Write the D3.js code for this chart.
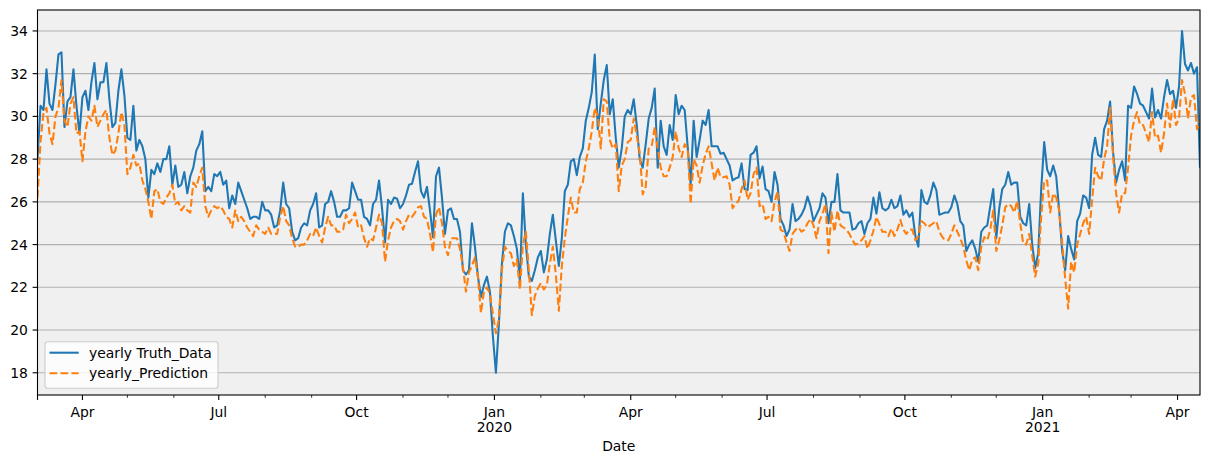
<!DOCTYPE html>
<html><head><meta charset="utf-8">
<script src="https://cdn.jsdelivr.net/npm/d3@7"></script>
<style>
body{margin:0;background:#fff}
svg{display:block}
text{font-family:"DejaVu Sans",sans-serif;font-size:13.9px;fill:#000}
</style>
</head><body>
<svg id="chart" width="1209" height="464"></svg>
<script>
// ---- data ----
const startDate = "2019-03-02";   // first observation
const stepDays = 2;               // spacing between the read-off values
const totalDays = 776;            // span of the x axis
const seriesNames = ["yearly Truth_Data", "yearly_Prediction"];
const xAxisLabel = "Date";
const yTickValues = [18, 20, 22, 24, 26, 28, 30, 32, 34];

const truthValues = [
28.0,30.5,30.3,32.2,30.6,30.3,31.5,32.9,33.0,29.5,30.7,30.9,32.2,30.5,29.2,30.9,31.2,30.3,31.6,32.5,30.8,31.6,31.6,32.5,30.8,29.5,29.7,31.2,32.2,31.0,29.0,28.9,30.5,28.4,28.9,28.6,28.0,26.2,27.5,27.3,27.8,
27.4,28.0,28.0,28.6,26.8,27.7,26.7,26.8,27.4,26.4,27.2,27.6,28.4,28.7,29.3,26.5,26.7,26.5,27.3,27.2,27.4,26.8,27.0,25.7,26.3,25.9,26.9,26.5,26.1,25.7,25.2,25.3,25.3,25.2,26.0,25.6,25.6,25.4,24.8,
24.9,25.6,26.9,25.9,25.7,24.6,24.2,24.3,24.8,25.0,24.9,25.6,25.9,26.4,24.8,24.9,25.9,26.0,26.5,26.0,25.3,25.3,25.6,25.6,25.7,26.9,26.5,26.1,26.1,25.3,25.2,24.9,25.9,26.1,27.0,25.7,24.1,26.1,25.9,
26.2,26.15,25.7,25.9,26.3,26.8,26.85,27.4,27.9,26.5,26.2,26.7,25.6,24.35,27.2,27.6,26.2,24.5,25.6,25.7,25.2,25.2,24.6,22.8,22.6,22.8,25.0,23.9,22.5,21.55,22.1,22.5,21.8,19.7,18.0,20.3,23.1,24.6,25.0,
24.9,24.4,23.8,22.3,26.4,24.0,22.5,22.3,22.8,23.4,23.7,22.7,23.3,24.5,25.4,24.2,23.0,24.3,26.5,26.8,27.9,28.0,27.25,28.1,28.5,29.8,30.4,31.15,32.9,29.4,30.6,31.7,32.4,30.1,30.8,29.0,27.6,28.5,30.0,
30.3,30.1,30.8,29.6,28.0,27.6,28.7,29.9,30.4,31.3,27.6,29.8,28.6,28.2,29.6,28.9,31.0,30.1,30.5,30.3,28.6,26.8,29.8,28.1,28.9,29.8,29.6,30.3,28.6,28.6,28.6,28.25,28.3,28.0,27.7,27.0,27.1,27.15,27.8,
26.6,26.55,28.2,28.3,28.6,27.1,27.65,26.6,26.5,26.0,27.4,26.8,25.2,24.9,24.4,24.7,25.9,25.1,25.2,25.4,25.7,26.25,25.8,25.1,25.4,25.7,26.4,26.2,25.0,26.0,26.0,27.3,25.6,25.5,25.5,25.5,24.7,24.75,25.0,
25.1,24.5,25.0,25.2,26.2,25.45,26.45,25.7,25.6,25.7,26.1,25.7,25.8,26.3,25.4,25.6,25.3,25.5,24.4,23.9,26.55,26.0,25.9,26.3,26.9,26.55,25.4,25.45,25.5,25.5,25.75,26.3,25.9,25.1,24.9,23.7,24.0,24.2,23.8,
23.2,24.6,24.8,24.9,25.8,26.6,24.3,25.7,26.6,26.8,27.4,26.8,26.9,26.9,25.3,25.0,24.9,25.9,24.0,22.9,23.6,26.6,28.8,27.5,27.2,27.7,27.2,25.6,23.7,22.8,24.4,23.8,23.3,25.1,25.45,26.3,26.2,25.7,
28.2,29.0,28.2,28.1,29.4,29.8,30.7,28.3,26.9,27.5,27.9,27.0,30.5,30.4,31.4,31.05,30.6,30.5,30.2,29.9,31.3,29.95,30.3,29.9,30.9,31.7,31.05,31.2,30.4,31.4,34.0,32.45,32.15,32.5,32.0,32.3,27.6
];

const predictionValues = [
26.2,28.8,30.2,30.4,29.2,28.7,30.0,30.4,31.7,29.8,29.5,30.6,30.9,29.2,29.3,27.9,29.3,30.0,29.8,30.5,29.5,29.8,30.1,30.3,29.0,28.2,28.4,29.2,30.2,29.6,27.3,27.6,28.2,27.7,27.8,27.0,26.6,26.0,25.2,26.5,26.6,
26.0,25.9,26.2,26.4,26.8,25.9,26.0,25.6,25.8,25.6,25.5,26.9,26.7,27.2,27.6,25.8,25.3,25.6,25.8,25.7,25.8,25.6,25.3,25.2,24.8,25.6,25.1,25.3,25.1,24.8,24.6,24.4,24.9,24.7,24.6,24.5,24.8,24.5,24.5,
24.5,25.3,25.8,25.1,24.9,24.3,23.9,23.9,24.0,24.0,24.2,24.5,24.4,24.8,24.4,24.1,24.8,25.3,24.9,24.9,24.6,24.6,24.7,25.4,25.0,25.2,25.5,24.8,24.9,24.3,23.9,24.3,24.2,24.8,25.4,25.0,23.2,24.2,24.8,
25.1,25.2,25.1,24.7,25.1,25.4,25.3,25.5,25.75,25.8,25.3,25.2,24.5,23.65,25.4,25.75,25.0,23.9,23.5,24.3,24.3,24.3,23.8,22.95,21.8,22.7,23.0,23.4,22.5,20.8,21.8,22.0,21.7,20.75,19.85,20.5,22.8,23.9,23.7,
23.6,23.0,23.3,21.9,24.0,24.6,22.8,20.7,21.6,21.95,22.2,21.9,22.1,23.1,23.9,22.6,20.9,23.0,24.3,25.3,26.2,25.5,25.5,26.6,26.9,27.9,28.5,29.3,30.4,30.0,28.5,30.8,30.7,28.9,28.5,28.7,26.5,27.7,28.0,
28.8,28.9,29.9,29.1,28.3,26.35,26.7,28.5,28.6,29.5,28.5,27.6,27.2,27.2,27.6,28.1,29.3,28.5,28.1,28.7,28.5,25.9,28.0,27.7,26.9,27.7,28.25,28.6,27.8,27.0,27.6,27.15,27.15,27.2,26.8,25.7,25.9,26.05,26.6,
27.0,26.1,26.4,27.3,27.6,25.8,25.9,25.2,25.3,25.1,26.0,26.5,24.7,24.6,24.1,23.7,24.5,24.7,24.8,24.6,24.7,25.0,25.2,24.9,24.3,25.1,25.45,25.9,23.6,25.5,24.6,25.6,24.9,24.8,24.7,24.5,24.2,24.0,24.05,
24.2,24.4,23.8,24.2,24.65,25.3,24.95,24.6,24.6,24.4,24.75,24.4,24.7,25.15,24.7,24.5,24.7,24.7,24.2,24.4,25.1,25.0,24.8,24.9,25.0,25.1,24.6,24.35,24.2,24.2,24.5,24.9,24.6,24.3,23.9,23.25,22.8,23.3,23.4,
22.8,23.9,24.35,24.2,24.7,25.6,23.7,24.2,24.9,25.75,25.9,25.8,25.5,26.05,25.0,24.05,24.0,24.5,23.5,22.5,23.1,25.3,27.0,27.0,25.5,26.4,26.2,25.6,24.1,22.4,21.0,23.2,22.7,24.0,24.5,25.0,25.3,24.5,
26.1,27.6,27.2,27.0,28.0,28.6,30.4,28.1,26.4,25.5,26.4,26.4,27.6,29.1,29.8,30.2,29.6,29.6,29.2,28.8,30.2,29.0,29.1,28.3,29.2,30.6,29.5,30.8,29.6,29.9,31.7,31.05,29.9,30.9,31.0,29.4,29.8
];

// ---- layout ----
const W = 1209, H = 464;
const plot = {left: 37.5, right: 1200, top: 10, bottom: 395};
const colors = ["#1f77b4", "#ff7f0e"];

const svg = d3.select("#chart");
const t0 = d3.isoParse(startDate + "T00:00:00Z");
const t1 = d3.utcDay.offset(t0, totalDays);
const dateAt = i => d3.utcDay.offset(t0, i * stepDays);

const truth = truthValues.map((v, i) => ({date: dateAt(i), v}));
const pred = predictionValues.map((v, i) => ({date: dateAt(i), v}));

const x = d3.scaleUtc().domain([t0, t1]).range([plot.left, plot.right]);
const y = d3.scaleLinear().domain([16.96, 34.98]).range([plot.bottom, plot.top]);

// background
svg.append("rect").attr("x", plot.left).attr("y", plot.top)
  .attr("width", plot.right - plot.left).attr("height", plot.bottom - plot.top)
  .attr("fill", "#f0f0f0");

// horizontal grid
svg.append("g").selectAll("line").data(yTickValues).join("line")
  .attr("x1", plot.left).attr("x2", plot.right)
  .attr("y1", d => y(d)).attr("y2", d => y(d))
  .attr("stroke", "#b0b0b0").attr("stroke-width", 1.1);

// clip
svg.append("clipPath").attr("id", "clip").append("rect")
  .attr("x", plot.left).attr("y", plot.top)
  .attr("width", plot.right - plot.left).attr("height", plot.bottom - plot.top);

const line = d3.line().x(d => x(d.date)).y(d => y(d.v));
const g = svg.append("g").attr("clip-path", "url(#clip)");
g.append("path").datum(truth).attr("d", line)
  .attr("fill", "none").attr("stroke", colors[0]).attr("stroke-width", 2.08)
  .attr("stroke-linejoin", "round");
g.append("path").datum(pred).attr("d", line)
  .attr("fill", "none").attr("stroke", colors[1]).attr("stroke-width", 2.08)
  .attr("stroke-linejoin", "round").attr("stroke-dasharray", "7.7,3.3");

// frame
svg.append("rect").attr("x", plot.left).attr("y", plot.top)
  .attr("width", plot.right - plot.left).attr("height", plot.bottom - plot.top)
  .attr("fill", "none").attr("stroke", "#000").attr("stroke-width", 1.1);

// y axis
const yAxis = svg.append("g");
yTickValues.forEach(v => {
  yAxis.append("line").attr("x1", plot.left - 4.9).attr("x2", plot.left)
    .attr("y1", y(v)).attr("y2", y(v)).attr("stroke", "#000").attr("stroke-width", 1.1);
  yAxis.append("text").attr("x", plot.left - 9.6).attr("y", y(v) + 5)
    .attr("text-anchor", "end").text(v);
});

// x axis: quarterly majors, monthly minors
const majors = d3.utcMonth.range(t0, t1).filter(d => d.getUTCMonth() % 3 === 0);
const minors = d3.utcMonth.range(t0, t1).filter(d => d.getUTCMonth() % 3 !== 0);
const xAxis = svg.append("g");
minors.forEach(d => {
  xAxis.append("line").attr("x1", x(d)).attr("x2", x(d))
    .attr("y1", plot.bottom).attr("y2", plot.bottom + 2.8)
    .attr("stroke", "#000").attr("stroke-width", 0.8);
});
[t0].concat(majors).forEach(d => {
  xAxis.append("line").attr("x1", x(d)).attr("x2", x(d))
    .attr("y1", plot.bottom).attr("y2", plot.bottom + 4.9)
    .attr("stroke", "#000").attr("stroke-width", 1.1);
});
const fmtMonth = d3.utcFormat("%b"), fmtYear = d3.utcFormat("%Y");
majors.forEach(d => {
  const t = xAxis.append("text").attr("x", x(d)).attr("y", plot.bottom + 21.5)
    .attr("text-anchor", "middle");
  t.append("tspan").attr("x", x(d)).text(fmtMonth(d));
  if (d.getUTCMonth() === 0) {
    t.append("tspan").attr("x", x(d)).attr("dy", 15.5).text(fmtYear(d));
  }
});
svg.append("text").attr("x", (plot.left + plot.right) / 2).attr("y", plot.bottom + 56)
  .attr("text-anchor", "middle").text(xAxisLabel);

// legend
const lg = svg.append("g");
lg.append("rect").attr("x", 45).attr("y", 341.7).attr("width", 173).attr("height", 46.6)
  .attr("rx", 2.8).attr("fill", "#fff").attr("fill-opacity", 0.8)
  .attr("stroke", "#cccccc").attr("stroke-width", 1.1);
seriesNames.forEach((name, i) => {
  const yy = 352.7 + i * 20.6;
  lg.append("line").attr("x1", 49.5).attr("x2", 78.7).attr("y1", yy).attr("y2", yy)
    .attr("stroke", colors[i]).attr("stroke-width", 2.08)
    .attr("stroke-dasharray", i === 1 ? "7.7,3.3" : null);
  lg.append("text").attr("x", 89).attr("y", yy + 5).text(name);
});
</script>
</body></html>
